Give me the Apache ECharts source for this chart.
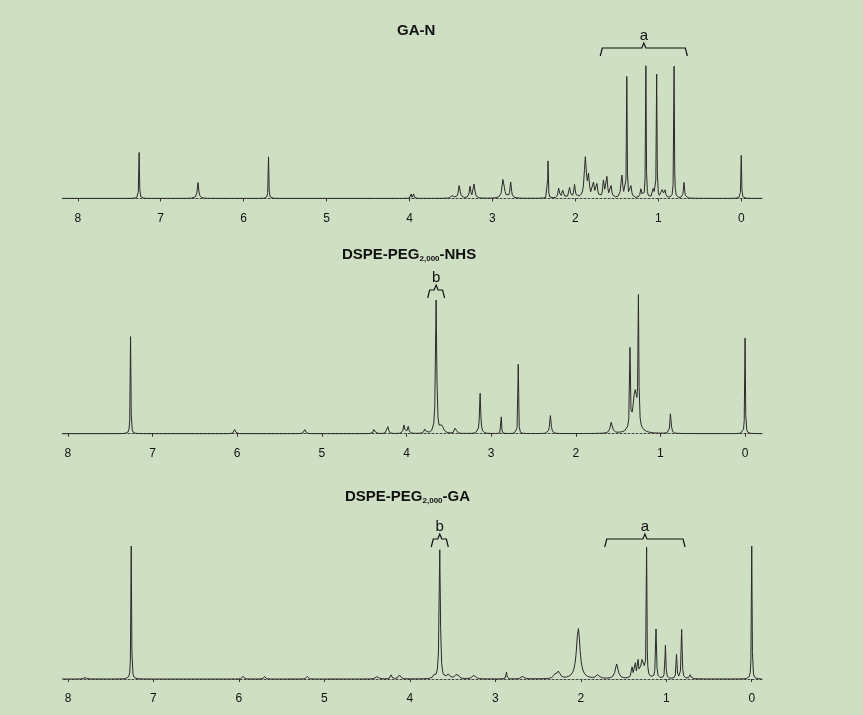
<!DOCTYPE html>
<html><head><meta charset="utf-8">
<script src="https://cdn.jsdelivr.net/npm/echarts@6/dist/echarts.min.js"></script>
<style>html,body{margin:0;background:#cfdfc3}#c{width:863px;height:715px}</style>
</head><body><div id="c"></div>
<script>
// peaks: [ppm, height, halfwidth]
const peaksGAN = [[7.26,32,0.004],[6.55,11,0.01],[5.70,29,0.004],[3.98,3,0.005],[3.95,3,0.005],[3.48,2,0.015],[3.40,9,0.012],[3.27,8,0.01],[3.22,10,0.01],[2.87,14,0.015],[2.78,11,0.01],[2.33,26,0.004],[2.20,7,0.01],[2.15,6,0.01],[2.07,7,0.01],[2.01,9,0.01],[1.88,28,0.015],[1.84,14,0.01],[1.78,10,0.01],[1.74,9,0.01],[1.66,12,0.01],[1.62,14,0.01],[1.57,8,0.01],[1.44,16,0.012],[1.38,84,0.004],[1.33,8,0.01],[1.21,6,0.01],[1.15,92,0.004],[1.06,6,0.01],[1.02,86,0.004],[0.95,6,0.01],[0.92,5,0.01],[0.81,92,0.004],[0.69,11,0.008],[0.00,30,0.004]];
const peaksNHS = [[7.26,70,0.004],[6.03,3,0.01],[5.20,3,0.01],[4.38,4,0.01],[4.22,5,0.01],[4.03,6,0.01],[3.98,5,0.01],[3.78,4,0.01],[3.65,96,0.008],[3.58,5,0.02],[3.42,5,0.01],[3.13,29,0.008],[2.88,12,0.004],[2.68,50,0.004],[2.30,13,0.01],[1.58,8,0.015],[1.36,56,0.005],[1.30,30,0.03],[1.26,90,0.005],[0.88,15,0.008],[0.00,69,0.004]];
const peaksGA = [[7.80,1,0.02],[7.26,100,0.004],[5.95,2,0.01],[5.70,2,0.01],[5.20,2,0.01],[4.38,2,0.015],[4.22,3,0.01],[4.12,3,0.015],[3.72,2,0.01],[3.65,97,0.008],[3.55,3,0.02],[3.45,4,0.02],[3.25,3,0.02],[2.87,5,0.006],[2.68,2,0.02],[2.30,3,0.02],[2.26,5,0.02],[2.03,38,0.025],[1.80,3,0.02],[1.58,11,0.02],[1.40,8,0.01],[1.36,11,0.006],[1.33,11,0.006],[1.28,14,0.025],[1.23,96,0.004],[1.12,37,0.006],[1.01,25,0.006],[0.88,18,0.006],[0.82,37,0.006],[0.72,3,0.01],[0.00,100,0.004]];
const tickLabels = [0,1,2,3,4,5,6,7,8];
const ranges = [[-0.25,8.19],[-0.2,8.07],[-0.12,8.07]];

// render peak list as a sampled Lorentzian line shape
function build(peaks, lo, hi){
  const pts=[];
  for(let x=hi;x>=lo;x-=0.002){
    let y=0;
    peaks.forEach(p=>{const d=(x-p[0])/p[2];y+=p[1]/(1+d*d);});
    pts.push([x,y]);
  }
  return pts;
}
const chart = echarts.init(document.getElementById('c'));
const grids=[{top:55,height:152},{top:295,height:147},{top:546,height:141}];
const all=[peaksGAN,peaksNHS,peaksGA];
const sub={fontSize:8,fontWeight:'bold',verticalAlign:'bottom',padding:[9,0,0,0],color:'#111',fontFamily:'Liberation Sans'};
const ts={fontSize:15,fontWeight:'bold',color:'#111',fontFamily:'Liberation Sans',rich:{s:sub}};
chart.setOption({
  backgroundColor:'#cfdfc3',
  animation:false,
  title:[
    {text:'GA-N',left:392,top:18,textStyle:ts},
    {text:'DSPE-PEG{s|2,000}-NHS',left:337,top:241,textStyle:ts},
    {text:'DSPE-PEG{s|2,000}-GA',left:340,top:483,textStyle:ts}
  ],
  grid:grids.map(g=>({left:62,right:101,top:g.top,height:g.height})),
  xAxis:[0,1,2].map(i=>({type:'value',gridIndex:i,inverse:true,min:ranges[i][0],max:ranges[i][1],
    splitLine:{show:false},
    axisLine:{lineStyle:{color:'#444',type:[2,2],width:1}},
    axisTick:{customValues:tickLabels,length:3,lineStyle:{color:'#333'}},
    axisLabel:{customValues:tickLabels,color:'#111',fontSize:12,margin:6,fontFamily:'Liberation Sans'}})),
  yAxis:[0,1,2].map(i=>({type:'value',gridIndex:i,min:-6,max:100,show:false})),
  series:all.map((p,i)=>({type:'line',xAxisIndex:i,yAxisIndex:i,showSymbol:false,sampling:'lttb',
    data:build(p,ranges[i][0],ranges[i][1]),lineStyle:{color:'#2a2a2a',width:1}}))
});
function bracket(gi,x1,x2,label,y){
  const p1=chart.convertToPixel({gridIndex:gi},[x1,0])[0];
  const p2=chart.convertToPixel({gridIndex:gi},[x2,0])[0];
  const m=(p1+p2)/2;
  return [
    {type:'polyline',shape:{points:[[p1,y+8],[p1+2,y],[m-2,y],[m,y-5],[m+2,y],[p2-2,y],[p2,y+8]]},style:{stroke:'#111',fill:null,lineWidth:1.2}},
    {type:'text',x:m,y:y-5,style:{text:label,fill:'#111',fontSize:15,fontFamily:'Liberation Sans',align:'center',verticalAlign:'bottom'}}
  ];
}
chart.setOption({graphic:[].concat(
  bracket(0,1.7,0.65,'a',48),
  bracket(1,3.75,3.55,'b',290),
  bracket(2,3.75,3.55,'b',539),
  bracket(2,1.72,0.78,'a',539)
)});
</script></body></html>
